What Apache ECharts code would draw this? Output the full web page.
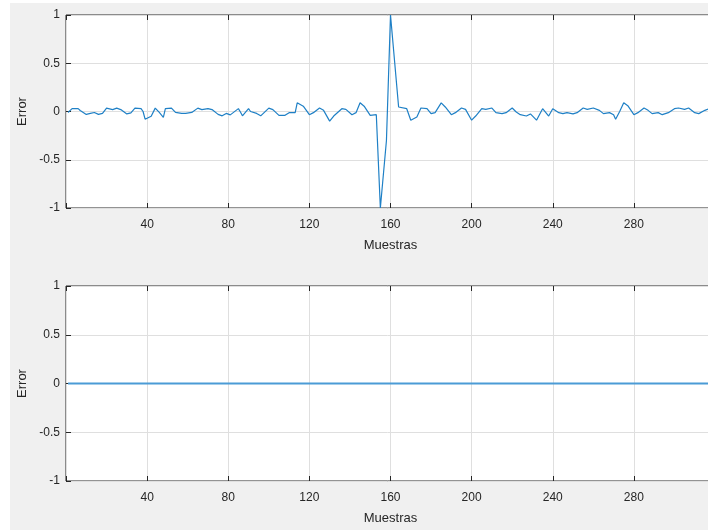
<!DOCTYPE html>
<html>
<head>
<meta charset="utf-8">
<script src="https://cdn.jsdelivr.net/npm/echarts@6/dist/echarts.min.js"></script>
<style>
html, body { margin: 0; padding: 0; background: #fff; }
#main { width: 708px; height: 532px; }
</style>
</head>
<body>
<div id="main"></div>
<script>
// muestras (vertices de la curva superior)
var muestrasTop = [1, 3, 6, 7, 10, 12, 14, 16, 18, 20, 23, 25, 27, 30, 32, 34, 37, 38, 39, 42,
    44, 46, 48, 49, 52, 54, 57, 59, 62, 65, 67, 70, 72, 75, 77, 79, 81, 85, 86, 87,
    90, 91, 94, 96, 100, 102, 105, 108, 110, 113, 114, 117, 120, 122, 125, 127, 130, 132, 136, 138,
    141, 143, 145, 147, 150, 153, 155, 158, 160, 164, 168, 170, 173, 175, 178, 180, 182, 185, 187, 190,
    192, 195, 197, 200, 202, 205, 207, 210, 212, 215, 217, 220, 222, 224, 227, 229, 232, 235, 238, 240,
    243, 245, 247, 250, 252, 255, 257, 260, 263, 265, 268, 270, 271, 273, 275, 277, 280, 282, 285, 287,
    289, 292, 294, 297, 300, 302, 305, 307, 310, 312, 315, 317];
var errorTop = [-0.01, 0.03, 0.03, 0.01, -0.03, -0.02, -0.01, -0.03, -0.02, 0.035, 0.02, 0.035, 0.02, -0.025, -0.015, 0.035, 0.03, 0.0, -0.08, -0.05,
    0.035, -0.01, -0.06, 0.03, 0.035, -0.01, -0.02, -0.02, -0.01, 0.035, 0.02, 0.03, 0.02, -0.03, -0.045, -0.02, -0.035, 0.03, -0.005, -0.045,
    0.03, 0.0, -0.02, -0.045, 0.035, 0.02, -0.04, -0.04, -0.012, -0.012, 0.09, 0.055, -0.033, -0.012, 0.036, 0.012, -0.1, -0.047, 0.029, 0.022,
    -0.033, -0.012, 0.09, 0.055, -0.04, -0.033, -1, -0.3, 1, 0.047, 0.029, -0.09, -0.057, 0.036, 0.029, -0.022, -0.012, 0.09, 0.047, -0.033,
    -0.012, 0.036, 0.022, -0.09, -0.047, 0.029, 0.022, 0.036, -0.012, -0.022, -0.012, 0.036, -0.005, -0.033, -0.047, -0.025, -0.09, 0.029, -0.047, 0.029,
    -0.012, -0.022, -0.012, -0.025, -0.012, 0.036, 0.022, 0.036, 0.012, -0.022, -0.012, -0.033, -0.08, 0.0, 0.09, 0.06, -0.033, -0.012, 0.036, 0.012,
    -0.022, -0.012, -0.033, -0.012, 0.029, 0.036, 0.022, 0.036, -0.012, -0.022, 0.012, 0.029];

// curva inferior: error nulo
var muestrasBottom = [1, 320];
var errorBottom = [0, 0];

var xMin = 0, xMax = 320, xStep = 40;
var yMin = -1, yMax = 1, yStep = 0.5;

var ink = '#262626';
var font = 'Liberation Sans, Arial, Helvetica, sans-serif';

function pares(xs, ys) {
    return xs.map(function (x, i) { return [x, ys[i]]; });
}

function ejeX(grid, top) {
    return {
        type: 'value', gridIndex: grid, position: top ? 'top' : 'bottom',
        min: xMin, max: xMax, interval: xStep,
        name: top ? '' : 'Muestras', nameLocation: 'middle', nameGap: 31,
        nameTextStyle: { color: ink, fontSize: 13, fontFamily: font },
        axisLine: { show: false, onZero: false },
        axisTick: { show: true, inside: true, length: 5, lineStyle: { color: ink } },
        axisLabel: {
            show: !top, color: ink, fontSize: 12, fontFamily: font, margin: 11,
            formatter: function (v) { return (v === xMin || v === xMax) ? '' : v; }
        },
        splitLine: { show: !top, lineStyle: { color: '#dfdfdf', width: 1 } }
    };
}

function ejeY(grid) {
    return {
        type: 'value', gridIndex: grid,
        min: yMin, max: yMax, interval: yStep,
        name: 'Error', nameLocation: 'middle', nameGap: 31,
        nameTextStyle: { color: ink, fontSize: 13, fontFamily: font },
        axisLine: { show: false, onZero: false },
        axisTick: { show: true, inside: true, length: 5, lineStyle: { color: ink } },
        axisLabel: { color: ink, fontSize: 12, fontFamily: font, margin: 6 },
        splitLine: { show: true, lineStyle: { color: '#dfdfdf', width: 1 } }
    };
}

var myChart = echarts.init(document.getElementById('main'));
myChart.setOption({
    backgroundColor: '#f0f0f0',
    animation: false,
    graphic: [
        { type: 'rect', shape: { x: 0, y: 0, width: 10, height: 532 }, style: { fill: '#fff' }, silent: true },
        { type: 'rect', shape: { x: 0, y: 0, width: 708, height: 3 }, style: { fill: '#fff' }, silent: true },
        { type: 'rect', shape: { x: 0, y: 530, width: 708, height: 2 }, style: { fill: '#fff' }, silent: true }
    ],
    grid: [
        { left: 66, width: 649, top: 15, height: 193, outerBoundsMode: 'none', containLabel: false,
          show: true, backgroundColor: '#fff', borderColor: ink, borderWidth: 1 },
        { left: 66, width: 649, top: 286, height: 195, outerBoundsMode: 'none', containLabel: false,
          show: true, backgroundColor: '#fff', borderColor: ink, borderWidth: 1 }
    ],
    xAxis: [ejeX(0, false), ejeX(1, false), ejeX(0, true), ejeX(1, true)],
    yAxis: [ejeY(0), ejeY(1)],
    series: [
        {
            type: 'line', xAxisIndex: 0, yAxisIndex: 0, showSymbol: false,
            lineStyle: { color: '#1f80c6', width: 1.2 },
            data: pares(muestrasTop, errorTop)
        },
        {
            type: 'line', xAxisIndex: 1, yAxisIndex: 1, showSymbol: false,
            lineStyle: { color: '#4b9bd6', width: 2 },
            data: pares(muestrasBottom, errorBottom)
        }
    ]
});
</script>
</body>
</html>
